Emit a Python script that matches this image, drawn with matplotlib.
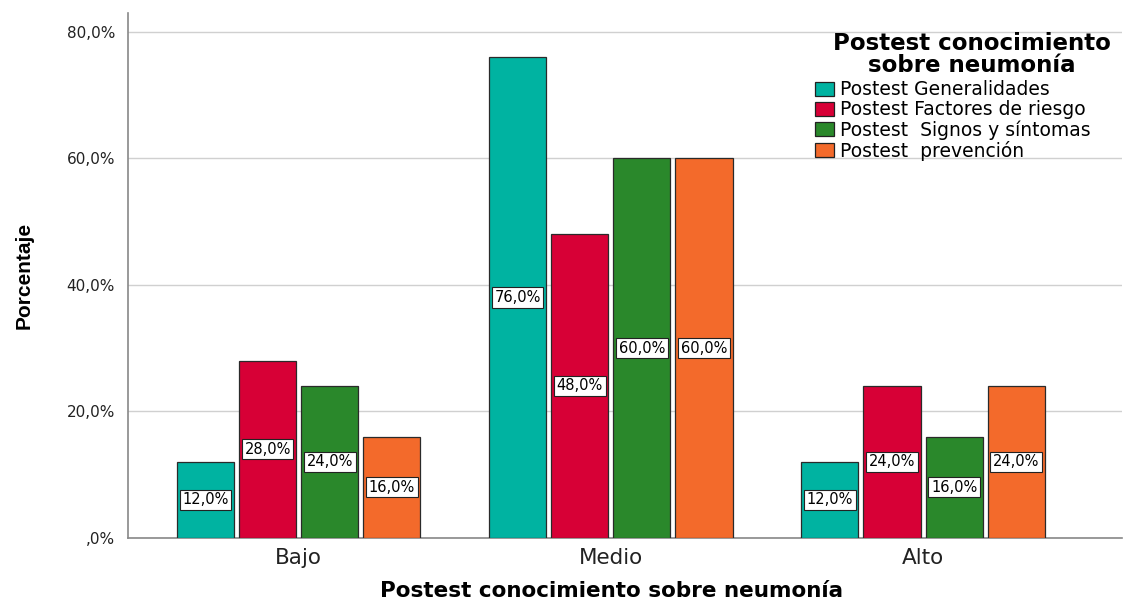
import matplotlib as mpl
mpl.use("Agg")
import matplotlib.pyplot as plt
import numpy as np
from matplotlib.ticker import FuncFormatter

plt.rcParams["font.family"] = ["DejaVu Sans"]

categories = ["Bajo", "Medio", "Alto"]
series = [
    "Postest Generalidades",
    "Postest Factores de riesgo",
    "Postest  Signos y síntomas",
    "Postest  prevención",
]
generalidades = [12.0, 76.0, 12.0]
factores = [28.0, 48.0, 24.0]
signos = [24.0, 60.0, 16.0]
prevencion = [16.0, 60.0, 24.0]
values = [generalidades, factores, signos, prevencion]
colors = ["#00b3a1", "#d70036", "#2a882b", "#f36a2b"]


def pct(v):
    return ",0%" if v == 0 else f"{v:.1f}%".replace(".", ",")


fig = plt.figure(figsize=(11.29, 6.03), dpi=100)
ax = fig.add_axes([0.113, 0.108, 0.881, 0.870])

x = np.arange(len(categories))
step, width = 0.199, 0.183
offsets = (np.arange(len(series)) - 1.5) * step

for vals, off, col, name in zip(values, offsets, colors, series):
    bars = ax.bar(x + off, vals, width, color=col, edgecolor="#2a2a2a",
                  linewidth=0.9, label=name, zorder=3)
    for b, v in zip(bars, vals):
        ax.text(b.get_x() + b.get_width() / 2, v / 2, pct(v),
                ha="center", va="center", fontsize=10.5, zorder=4,
                bbox=dict(boxstyle="square,pad=0.18", fc="white", ec="#222222", lw=0.8))

ax.set_xlim(-0.548, 2.638)
ax.set_ylim(0, 82.9)
ax.set_yticks([0, 20, 40, 60, 80])
ax.yaxis.set_major_formatter(FuncFormatter(lambda v, _: pct(v)))
ax.set_xticks(x)
ax.set_xticklabels(categories, fontsize=15.5)
ax.tick_params(axis="y", labelsize=11, length=0, pad=9, labelcolor="#222222")
ax.tick_params(axis="x", length=0, pad=7, labelcolor="#222222")
ax.grid(axis="y", color="#d0d0d0", lw=1.0, zorder=0)
for side in ["top", "right"]:
    ax.spines[side].set_visible(False)
for side in ["left", "bottom"]:
    ax.spines[side].set_color("#888888")
    ax.spines[side].set_linewidth(1.2)

ax.set_xlabel("Postest conocimiento sobre neumonía", fontsize=15.5, weight="bold")
ax.xaxis.set_label_coords(0.487, -0.083)
ax.set_ylabel("Porcentaje", fontsize=15, weight="bold", labelpad=24,
              family=["Liberation Sans Narrow", "Liberation Sans", "DejaVu Sans"])

# legend title drawn separately so the gap to the entries can be set freely
ax.text(0.849, 0.922, "Postest conocimiento\nsobre neumonía", transform=ax.transAxes,
        ha="center", va="center", fontsize=16.5, weight="bold", linespacing=0.95, zorder=5)
leg = ax.legend(loc="upper left", bbox_to_anchor=(0.691, 0.872), fontsize=13.5,
                frameon=False, handlelength=1.0, handleheight=0.8, handletextpad=0.35,
                labelspacing=0.05, borderpad=0.0, borderaxespad=0.0)
for h in leg.legend_handles:
    h.set_edgecolor("#222222")
leg.set_zorder(5)

fig.savefig("out.png", dpi=100, facecolor="white")
